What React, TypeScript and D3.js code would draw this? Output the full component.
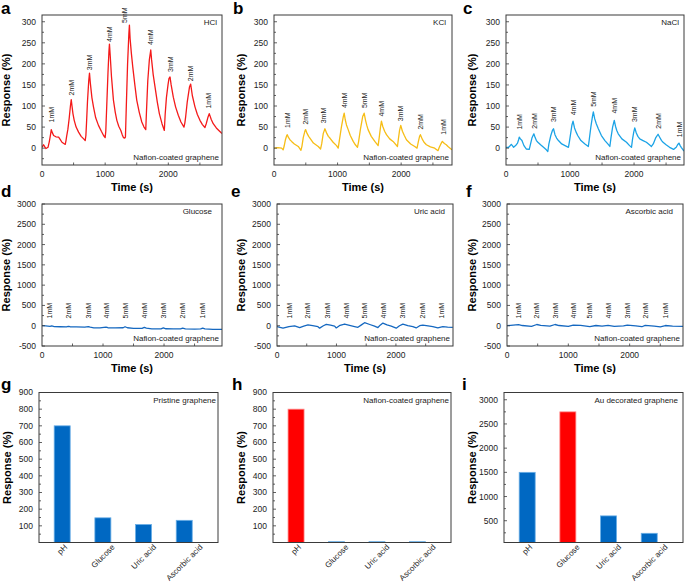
import React from 'react';
import * as d3 from 'd3';

const FONT = '"Liberation Sans", Arial, Helvetica, sans-serif';

// ---------- data ----------
const concLabels = ['1mM', '2mM', '3mM', '4mM', '5mM', '4mM', '3mM', '2mM', '1mM'];

const hclData: [number, number][] = [
  [0, 2], [25, 8], [45, 3], [63, -1], [95, 2], [115, 15], [135, 32], [147, 44], [160, 38], [184, 30], [220, 27], [263, 26],
  [290, 20], [316, 14], [345, 11], [368, 9], [380, 18], [390, 28], [410, 45], [430, 70], [450, 100], [463, 115], [475, 100],
  [490, 82], [510, 66], [540, 50], [579, 38], [620, 28], [660, 22], [684, 18], [695, 30], [705, 60], [720, 110], [740, 160],
  [752, 178], [765, 155], [790, 120], [815, 98], [850, 72], [894, 54], [940, 40], [975, 30], [1000, 25], [1010, 40],
  [1025, 100], [1045, 180], [1060, 230], [1068, 247], [1080, 220], [1100, 170], [1131, 114], [1160, 85], [1185, 66],
  [1215, 52], [1248, 42], [1270, 32], [1289, 25], [1310, 24], [1321, 26], [1335, 100], [1355, 200], [1375, 270],
  [1384, 292], [1395, 260], [1415, 225], [1437, 193], [1470, 150], [1500, 114], [1540, 85], [1580, 62], [1615, 50],
  [1643, 44], [1655, 90], [1675, 160], [1700, 210], [1722, 233], [1735, 210], [1760, 175], [1790, 145], [1825, 110],
  [1858, 82], [1900, 58], [1937, 42], [1950, 80], [1970, 120], [1995, 150], [2010, 165], [2027, 169], [2045, 150],
  [2079, 121], [2115, 98], [2158, 78], [2200, 62], [2248, 50], [2262, 60], [2275, 75], [2300, 110], [2335, 145],
  [2354, 152], [2380, 125], [2422, 98], [2460, 80], [2501, 66], [2540, 56], [2580, 49], [2600, 58], [2625, 72],
  [2648, 82], [2680, 68], [2711, 58], [2760, 48], [2800, 42], [2833, 37], [2848, 35],
];
const hclLabelT = [147, 463, 747, 1063, 1302, 1722, 2027, 2354, 2643];
const hclLabelV = [61, 125, 185, 252, 297, 245, 181, 159, 94];

const kclData: [number, number][] = [
  [0, 0], [60, 1], [120, 0], [144, -4], [160, 5], [180, 20], [200, 30], [209, 32], [225, 26], [250, 20], [277, 16],
  [320, 10], [382, 4], [424, -5], [440, 5], [460, 25], [485, 40], [497, 44], [520, 35], [545, 28], [565, 24], [620, 12],
  [696, 4], [733, -2], [750, 10], [775, 35], [801, 46], [830, 35], [855, 28], [879, 24], [930, 14], [984, 6], [1010, 0],
  [1030, 20], [1060, 50], [1090, 75], [1104, 83], [1120, 68], [1140, 55], [1167, 44], [1200, 30], [1246, 16], [1280, 8],
  [1313, 2], [1330, 15], [1360, 45], [1395, 75], [1418, 83], [1440, 66], [1460, 54], [1480, 44], [1530, 28], [1586, 16],
  [1638, 6], [1655, 25], [1675, 50], [1690, 64], [1710, 52], [1740, 40], [1769, 32], [1820, 22], [1873, 16], [1942, 4],
  [1955, 20], [1975, 42], [1994, 54], [2020, 40], [2050, 30], [2083, 20], [2150, 10], [2214, 4], [2250, 0], [2270, 15],
  [2290, 28], [2303, 32], [2330, 22], [2360, 14], [2397, 8], [2460, 3], [2528, 0], [2580, -6], [2600, 2], [2625, 10],
  [2648, 16], [2680, 11], [2710, 8], [2737, 4], [2770, 0], [2800, -4],
];
const kclLabelT = [209, 497, 785, 1104, 1429, 1690, 1994, 2308, 2660];
const kclLabelV = [48, 56, 59, 95, 95, 75, 64, 44, 32];

const naclData: [number, number][] = [
  [0, 2], [41, 2], [60, 5], [83, 9], [100, 6], [119, 2], [150, 6], [180, 12], [197, 20], [207, 26], [225, 22], [249, 18],
  [280, 6], [316, -2], [363, -3], [380, 8], [405, 24], [435, 34], [455, 25], [475, 18], [498, 14], [540, 8], [586, 2],
  [630, -4], [653, -8], [670, 10], [700, 30], [725, 42], [742, 46], [765, 32], [790, 24], [819, 18], [870, 10], [922, 6],
  [975, 2], [990, 15], [1010, 35], [1030, 55], [1047, 64], [1070, 48], [1095, 38], [1120, 30], [1170, 18], [1233, 10],
  [1286, 4], [1300, 20], [1325, 50], [1350, 75], [1364, 86], [1385, 70], [1410, 58], [1442, 46], [1490, 30], [1545, 18],
  [1590, 10], [1622, 4], [1640, 25], [1665, 50], [1691, 66], [1710, 52], [1730, 42], [1753, 34], [1810, 22], [1882, 14],
  [1930, 6], [1960, 2], [1975, 20], [1995, 38], [2011, 48], [2035, 36], [2060, 28], [2089, 22], [2140, 18], [2193, 14],
  [2240, 8], [2271, 4], [2300, 10], [2340, 25], [2375, 33], [2400, 26], [2430, 18], [2453, 14], [2500, 8], [2555, 2],
  [2617, -3], [2640, 0], [2659, 2], [2680, 8], [2701, 12], [2720, 6], [2737, 2], [2760, -3], [2779, -7],
];
const naclLabelT = [207, 440, 742, 1052, 1364, 1700, 2011, 2375, 2711];
const naclLabelV = [44, 46, 62, 78, 98, 82, 62, 46, 26];

const glucoseData: [number, number][] = [
  [0, 0], [60, -5], [131, -15], [160, -5], [200, -20], [300, -25], [400, -30], [431, -15], [460, -25], [560, -30],
  [700, -35], [759, -20], [790, -35], [850, -55], [950, -55], [1049, -35], [1080, -50], [1200, -55], [1330, -50],
  [1361, -25], [1400, -50], [1500, -65], [1640, -65], [1677, -40], [1710, -60], [1800, -80], [1950, -80], [1989, -55],
  [2030, -75], [2150, -80], [2270, -80], [2306, -60], [2350, -80], [2500, -82], [2600, -78], [2634, -58], [2670, -80],
  [2800, -88], [2950, -92],
];
const glucoseLabelT = [131, 431, 759, 1049, 1361, 1677, 1989, 2306, 2634];

const uricData: [number, number][] = [
  [0, -24], [101, -60], [200, -20], [297, -5], [381, -45], [450, -10], [521, 20], [600, 0], [689, -25], [717, -60],
  [780, 0], [829, 35], [900, 15], [969, -10], [997, -55], [1060, 10], [1137, 42], [1220, 10], [1305, -20], [1361, -40],
  [1420, 20], [1473, 75], [1560, 30], [1641, -10], [1697, -45], [1740, 20], [1781, 65], [1850, 20], [1921, -10],
  [2005, -60], [2060, 0], [2117, 40], [2200, 0], [2285, -24], [2341, -55], [2400, 0], [2453, 15], [2540, -5],
  [2621, -24], [2705, -55], [2789, -24], [2870, -35], [2957, -40],
];
const uricLabelT = [202, 521, 846, 1165, 1474, 1793, 2118, 2442, 2762];

const ascorbicData: [number, number][] = [
  [0, 0], [100, 15], [188, 25], [250, 5], [400, -15], [486, 30], [550, 10], [700, -10], [783, 30], [850, 5],
  [1000, -15], [1080, 15], [1200, 10], [1351, -20], [1450, 5], [1550, -10], [1648, 10], [1750, -15], [1900, -5],
  [1962, 15], [2100, -5], [2200, -25], [2254, 10], [2400, -10], [2500, -30], [2583, 5], [2700, -10], [2870, -15],
];
const ascorbicLabelT = [188, 486, 783, 1080, 1351, 1648, 1962, 2254, 2583];
const rowTwoLabelV = 180;

const barCategories = ['pH', 'Glucose', 'Uric acid', 'Ascorbic acid'];
const pristineValues = [700, 148, 108, 133];
const nafionValues = [800, 4, 4, 4];
const auValues = [1500, 2750, 600, 240];

const smallTicks = [0, 50, 100, 150, 200, 250, 300];
const largeTicks = [-500, 0, 500, 1000, 1500, 2000, 2500, 3000];
const timeTicks = [0, 1000, 2000];
const barTicks900 = [100, 200, 300, 400, 500, 600, 700, 800, 900];
const barTicks3000 = [500, 1000, 1500, 2000, 2500, 3000];

// ---------- styles ----------
const AXIS = '#3a3a3a';
const TXT = '#222';
const BLUE = '#0068C2';
const BLUE_EDGE = '#6aaee6';
const RED = '#FF0000';
const RED_EDGE = '#ff8a8a';

let measureCtx: CanvasRenderingContext2D | null = null;
function textWidth(s: string, size: number): number {
  if (typeof document !== 'undefined') {
    if (!measureCtx) measureCtx = document.createElement('canvas').getContext('2d');
    if (measureCtx) {
      measureCtx.font = `${size}px "Liberation Sans", Arial, sans-serif`;
      return measureCtx.measureText(s).width;
    }
  }
  return s.length * size * 0.5;
}

type LineCfg = {
  id: string; letter: string; letterX: number; letterY: number;
  left: number; right: number; top: number; bottom: number;
  xMax: number; yDomain: [number, number]; yTicks: number[]; yMinorStep: number;
  data: [number, number][]; color: string; name: string; nameRightPad: number;
  labelT: number[]; labelV: number[]; titleX: number;
};

function LinePanel({ c }: { c: LineCfg }) {
  const x = d3.scaleLinear().domain([0, c.xMax]).range([c.left, c.right]);
  const y = d3.scaleLinear().domain(c.yDomain).range([c.bottom, c.top]);
  const line = d3.line<[number, number]>().x(d => x(d[0])).y(d => y(d[1]));
  const minor: number[] = [];
  for (let v = Math.ceil(c.yDomain[0] / c.yMinorStep) * c.yMinorStep; v <= c.yDomain[1]; v += c.yMinorStep) minor.push(v);
  const minorX: number[] = [];
  for (let t = 500; t < c.xMax; t += 500) minorX.push(t);
  const cx = (c.left + c.right) / 2;
  const cy = (c.top + c.bottom) / 2;
  return (
    <g>
      <defs>
        <clipPath id={`clip-${c.id}`}>
          <rect x={c.left} y={c.top} width={c.right - c.left} height={c.bottom - c.top} />
        </clipPath>
      </defs>
      <text x={c.letterX} y={c.letterY} fontSize={17} fontWeight="bold" fill="#000">{c.letter}</text>
      <path d={line(c.data) || ''} fill="none" stroke={c.color} strokeWidth={1.3} clipPath={`url(#clip-${c.id})`} strokeLinejoin="round" />
      <rect x={c.left} y={c.top} width={c.right - c.left} height={c.bottom - c.top} fill="none" stroke={AXIS} strokeWidth={1} />
      {minor.map((v, i) => (
        <line key={'ym' + i} x1={c.left} x2={c.left + (c.yTicks.includes(v) ? 3 : 2)} y1={y(v)} y2={y(v)} stroke={AXIS} strokeWidth={0.8} />
      ))}
      {c.yTicks.map((v, i) => (
        <text key={'yt' + i} x={c.left - 6} y={y(v)} dy="0.35em" textAnchor="end" fontSize={8.5} fill={TXT}>{v}</text>
      ))}
      {minorX.map((t, i) => (
        <line key={'xm' + i} x1={x(t)} x2={x(t)} y1={c.bottom} y2={c.bottom - 2.5} stroke={AXIS} strokeWidth={0.8} />
      ))}
      {timeTicks.map((t, i) => (
        <text key={'xt' + i} x={x(t)} y={c.bottom + 12} textAnchor="middle" fontSize={8.5} fill={TXT}>{t}</text>
      ))}
      <text x={cx} y={c.bottom + 26} textAnchor="middle" fontSize={11} fontWeight="bold" fill="#000">Time (s)</text>
      <text transform={`translate(${c.titleX},${cy}) rotate(-90)`} textAnchor="middle" fontSize={11} fontWeight="bold" fill="#000">Response (%)</text>
      <text x={c.right - c.nameRightPad} y={c.top + 10} textAnchor="end" fontSize={8} fill={TXT}>{c.name}</text>
      <text x={c.right - 3} y={c.bottom - 5} textAnchor="end" fontSize={8} fill={TXT}>Nafion-coated graphene</text>
      {c.labelT.map((t, i) => (
        <text key={'lb' + i} transform={`translate(${x(t) + 2.5},${y(c.labelV[i])}) rotate(-90)`} textAnchor="start" fontSize={7} fill={TXT}>{concLabels[i]}</text>
      ))}
    </g>
  );
}

type BarCfg = {
  letter: string; letterX: number; letterY: number;
  left: number; right: number; top: number; bottom: number;
  yDomain: [number, number]; yTicks: number[]; yMinorStep: number;
  values: number[]; highlight: number; name: string; nameRightPad: number; titleX: number;
};

function BarPanel({ c }: { c: BarCfg }) {
  const x = d3.scaleLinear().domain([-0.57, 3.83]).range([c.left, c.right]);
  const y = d3.scaleLinear().domain(c.yDomain).range([c.bottom, c.top]);
  const bw = 16;
  const minor: number[] = [];
  for (let v = Math.ceil(c.yDomain[0] / c.yMinorStep) * c.yMinorStep; v <= c.yDomain[1]; v += c.yMinorStep) minor.push(v);
  const cy = (c.top + c.bottom) / 2;
  const labelSize = 8;
  return (
    <g>
      <text x={c.letterX} y={c.letterY} fontSize={17} fontWeight="bold" fill="#000">{c.letter}</text>
      {c.values.map((v, i) => {
        const hi = i === c.highlight;
        const yTop = Math.min(y(v), c.bottom - 0.8);
        return (
          <rect key={i} x={x(i) - bw / 2} y={yTop} width={bw} height={c.bottom - yTop}
            fill={hi ? RED : BLUE} stroke={hi ? RED_EDGE : BLUE_EDGE} strokeWidth={0.8} />
        );
      })}
      <rect x={c.left} y={c.top} width={c.right - c.left} height={c.bottom - c.top} fill="none" stroke={AXIS} strokeWidth={1} />
      {minor.map((v, i) => (
        <line key={'ym' + i} x1={c.left} x2={c.left + (c.yTicks.includes(v) ? 3 : 2)} y1={y(v)} y2={y(v)} stroke={AXIS} strokeWidth={0.8} />
      ))}
      {c.yTicks.map((v, i) => (
        <text key={'yt' + i} x={c.left - 6} y={y(v)} dy="0.35em" textAnchor="end" fontSize={8.5} fill={TXT}>{v}</text>
      ))}
      {barCategories.map((name, i) => {
        const L = textWidth(name, labelSize);
        const X = x(i) + 2;
        const Y = c.bottom + 1 + L * 0.3536 + 4.2;
        return (
          <text key={'xc' + i} transform={`translate(${X},${Y}) rotate(-45)`} textAnchor="middle" fontSize={labelSize} fill={TXT}>{name}</text>
        );
      })}
      <text transform={`translate(${c.titleX},${cy}) rotate(-90)`} textAnchor="middle" fontSize={11} fontWeight="bold" fill="#000">Response (%)</text>
      <text x={c.right - c.nameRightPad} y={c.top + 10} textAnchor="end" fontSize={8} fill={TXT}>{c.name}</text>
    </g>
  );
}

const lineCfgs: LineCfg[] = [
  { id: 'a', letter: 'a', letterX: 1, letterY: 14, left: 42, right: 222, top: 15, bottom: 165, xMax: 2850,
    yDomain: [-40, 316], yTicks: smallTicks, yMinorStep: 25, data: hclData, color: '#F41A1A', name: 'HCl', nameRightPad: 5,
    labelT: hclLabelT, labelV: hclLabelV, titleX: 10 },
  { id: 'b', letter: 'b', letterX: 233, letterY: 14, left: 274, right: 452, top: 15, bottom: 165, xMax: 2800,
    yDomain: [-40, 316], yTicks: smallTicks, yMinorStep: 25, data: kclData, color: '#F6BD16', name: 'KCl', nameRightPad: 6,
    labelT: kclLabelT, labelV: kclLabelV, titleX: 245 },
  { id: 'c', letter: 'c', letterX: 463, letterY: 14, left: 506, right: 684, top: 15, bottom: 165, xMax: 2780,
    yDomain: [-40, 316], yTicks: smallTicks, yMinorStep: 25, data: naclData, color: '#1BA3E6', name: 'NaCl', nameRightPad: 5,
    labelT: naclLabelT, labelV: naclLabelV, titleX: 476 },
  { id: 'd', letter: 'd', letterX: 1, letterY: 197, left: 42, right: 222, top: 204, bottom: 346, xMax: 2950,
    yDomain: [-500, 3000], yTicks: largeTicks, yMinorStep: 250, data: glucoseData, color: '#1568C0', name: 'Glucose', nameRightPad: 10,
    labelT: glucoseLabelT, labelV: glucoseLabelT.map(() => rowTwoLabelV), titleX: 10 },
  { id: 'e', letter: 'e', letterX: 231, letterY: 197, left: 277, right: 453, top: 204, bottom: 346, xMax: 2960,
    yDomain: [-500, 3000], yTicks: largeTicks, yMinorStep: 250, data: uricData, color: '#1568C0', name: 'Uric acid', nameRightPad: 8,
    labelT: uricLabelT, labelV: uricLabelT.map(() => rowTwoLabelV), titleX: 245 },
  { id: 'f', letter: 'f', letterX: 466, letterY: 197, left: 507, right: 683, top: 204, bottom: 346, xMax: 2870,
    yDomain: [-500, 3000], yTicks: largeTicks, yMinorStep: 250, data: ascorbicData, color: '#1568C0', name: 'Ascorbic acid', nameRightPad: 10,
    labelT: ascorbicLabelT, labelV: ascorbicLabelT.map(() => rowTwoLabelV), titleX: 476 },
];

const barCfgs: BarCfg[] = [
  { letter: 'g', letterX: 1, letterY: 390, left: 39, right: 218, top: 392.5, bottom: 542.5, yDomain: [0, 900],
    yTicks: barTicks900, yMinorStep: 50, values: pristineValues, highlight: -1, name: 'Pristine graphene', nameRightPad: 2, titleX: 11 },
  { letter: 'h', letterX: 232, letterY: 390, left: 273, right: 451, top: 392.5, bottom: 542.5, yDomain: [0, 900],
    yTicks: barTicks900, yMinorStep: 50, values: nafionValues, highlight: 0, name: 'Nafion-coated graphene', nameRightPad: 2, titleX: 245 },
  { letter: 'i', letterX: 462, letterY: 390, left: 504, right: 683, top: 392.5, bottom: 542.5, yDomain: [50, 3150],
    yTicks: barTicks3000, yMinorStep: 250, values: auValues, highlight: 1, name: 'Au decorated graphene', nameRightPad: 5, titleX: 476 },
];

export default function App() {
  return (
    <svg width={685} height={583} viewBox="0 0 685 583"
      style={{ position: 'absolute', left: 0, top: 0, background: '#fff', fontFamily: FONT }}>
      <rect x={0} y={0} width={685} height={583} fill="#fff" />
      {lineCfgs.map(c => <LinePanel key={c.id} c={c} />)}
      {barCfgs.map(c => <BarPanel key={c.letter} c={c} />)}
    </svg>
  );
}
